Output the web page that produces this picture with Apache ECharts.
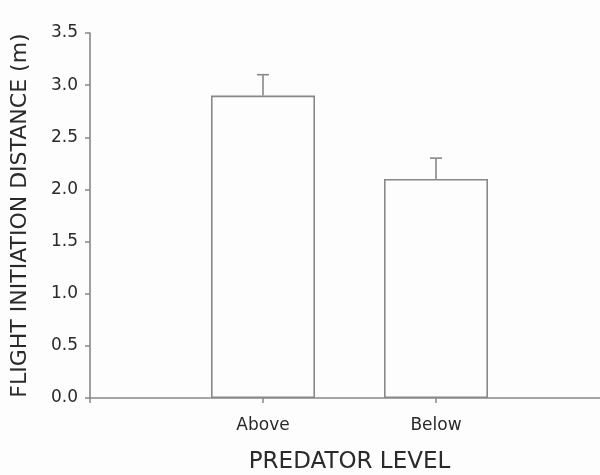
<!DOCTYPE html>
<html>
<head>
<meta charset="utf-8">
<script src="https://cdn.jsdelivr.net/npm/echarts@6/dist/echarts.min.js"></script>
<style>
html,body{margin:0;padding:0;background:#fdfdfd;}
#chart{width:600px;height:475px;}
</style>
</head>
<body>
<div id="chart"></div>
<script>
// Categories (blank entries pad the axis on both sides)
var categories = ['', 'Above', 'Below', ''];
var means = [null, 2.9, 2.1, null];
var errors = [null, 0.2, 0.2, null];
var yTicks = { min: 0, max: 3.5, interval: 0.5 };

var lineColor = '#888888';
var textColor = '#2a2a2a';
var font = 'DejaVu Sans';

var errData = [];
for (var i = 0; i < categories.length; i++) {
  if (means[i] != null) errData.push([i, means[i], means[i] + errors[i]]);
}

var chart = echarts.init(document.getElementById('chart'), null, { renderer: 'canvas' });
chart.setOption({
  backgroundColor: '#fdfdfd',
  animation: false,
  grid: { left: 90, top: 33, bottom: 77, right: -9, outerBoundsMode: 'none', containLabel: false },
  xAxis: {
    type: 'category',
    data: categories,
    boundaryGap: false,
    name: 'PREDATOR LEVEL',
    nameLocation: 'middle',
    nameGap: 53,
    nameTextStyle: { fontFamily: font, fontSize: 23, color: textColor },
    axisLine: { lineStyle: { color: lineColor, width: 1.6 } },
    axisTick: { show: true, length: 5, lineStyle: { color: lineColor, width: 1.5 } },
    axisLabel: { fontFamily: font, fontSize: 17, color: textColor, margin: 19, interval: 0 },
    splitLine: { show: false }
  },
  yAxis: {
    type: 'value',
    min: yTicks.min,
    max: yTicks.max,
    interval: yTicks.interval,
    name: 'FLIGHT INITIATION DISTANCE (m)',
    nameLocation: 'middle',
    nameGap: 59,
    nameTextStyle: { fontFamily: font, fontSize: 22, color: textColor },
    axisLine: { show: true, lineStyle: { color: lineColor, width: 1.6 } },
    axisTick: { show: true, length: 5, lineStyle: { color: lineColor, width: 1.5 } },
    axisLabel: { fontFamily: font, fontSize: 17, color: textColor, margin: 12,
      formatter: function (v) { return v.toFixed(1); } },
    splitLine: { show: false }
  },
  series: [
    {
      type: 'bar',
      data: means,
      barWidth: 104,
      itemStyle: { color: '#fdfdfd', borderColor: lineColor, borderWidth: 1.6 },
      z: 2
    },
    {
      type: 'custom',
      data: errData,
      z: 3,
      renderItem: function (params, api) {
        var x = api.value(0);
        var lo = api.coord([x, api.value(1)]);
        var hi = api.coord([x, api.value(2)]);
        var hw = 6;
        var st = { stroke: lineColor, lineWidth: 1.6 };
        return {
          type: 'group',
          children: [
            { type: 'line', shape: { x1: lo[0], y1: lo[1], x2: hi[0], y2: hi[1] }, style: st },
            { type: 'line', shape: { x1: hi[0] - hw, y1: hi[1], x2: hi[0] + hw, y2: hi[1] }, style: st }
          ]
        };
      }
    }
  ]
});
</script>
</body>
</html>
